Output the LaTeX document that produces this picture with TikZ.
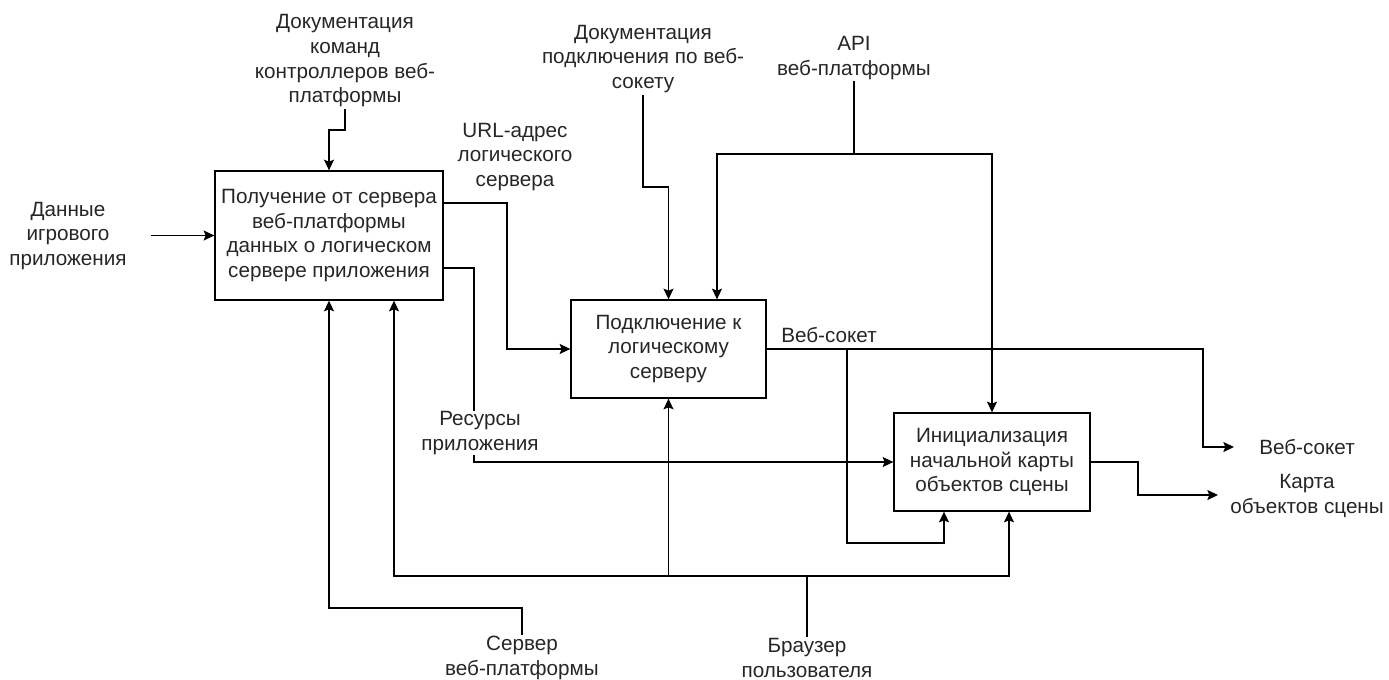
\documentclass[tikz,border=0pt]{standalone}
\usepackage{fontspec}
\setmainfont{Liberation Sans}
\usetikzlibrary{arrows.meta,calc}
\definecolor{txt}{HTML}{262626}
\newcommand{\dfs}{\fontsize{15.5pt}{18.5pt}\selectfont}
\begin{document}
\begin{tikzpicture}[x=0.75pt,y=-0.75pt,
  box/.style={draw, line width=1pt, align=center, font=\dfs, text=txt, inner sep=0pt},
  lbl/.style={align=center, font=\dfs, text=txt, inner sep=1pt},
  conn/.style={line width=1pt},
  arr/.style={conn, -{Stealth[length=8pt,width=7.5pt,inset=1.5pt]}}]
\useasboundingbox (0,0) rectangle (1389,679);
% boxes
\node[box, minimum width=171pt, minimum height=96.75pt] (A) at (329,235.5)
  {Получение от сервера\\веб-платформы\\данных о логическом\\сервере приложения};
\node[box, minimum width=146.25pt, minimum height=73.5pt] (B) at (668.5,349)
  {Подключение к\\логическому\\серверу};
\node[box, minimum width=147pt, minimum height=73.5pt] (C) at (992,462)
  {Инициализация\\начальной карты\\объектов сцены};
% labels
\node[lbl] (ctrlA) at (345,61) {Документация\\команд\\контроллеров веб-\\платформы};
\node[lbl] (inA) at (68,236) {Данные\\игрового\\приложения};
\node[lbl] (url) at (515,157) {URL-адрес\\логического\\сервера};
\node[lbl] (docB) at (643,59) {Документация\\подключения по веб-\\сокету};
\node[lbl] (api) at (854,58) {API\\веб-платформы};
\node[lbl] (wsLbl) at (829,335) {Веб-сокет};
\node[lbl] (wsOut) at (1307,447) {Веб-сокет};
\node[lbl] (mapOut) at (1307,496) {Карта\\объектов сцены};
\node[lbl] (srv) at (522,658) {Сервер\\веб-платформы};
\node[lbl] (brw) at (807,658) {Браузер\\пользователя};
% coordinates
\coordinate (k1) at (345,130);
\coordinate (i1) at (151,235.5);
\coordinate (k2) at (643,187);
\coordinate (j1) at (854,154);
\coordinate (k3) at (1203,349);
\coordinate (wsEnd) at (1234,447);
\coordinate (k4) at (847,349);
\coordinate (k8) at (847,543);
\coordinate (k9) at (1138,462);
\coordinate (mapEnd) at (1218,495);
\coordinate (k5) at (522,608);
\coordinate (k6) at (807,576);
\coordinate (k7) at (B.south |- k6);
% connectors
\draw[arr] (ctrlA.south) -- (k1) -| (A.north);
\draw[arr] (i1) -- (A.west);
\draw[arr] ($(A.east)+(0,-32.5)$) -- (507,203) |- (B.west);
\draw[arr] ($(A.east)+(0,32.5)$) -- (474,268) |- (C.west);
\draw[arr] (docB.south) -- (k2) -| (B.north);
\draw[conn] (api.south) -- (j1);
\draw[arr] (j1) -| ($(B.north)+(48.5,0)$);
\draw[arr] (j1) -| (C.north);
\draw[arr] (B.east) -- (k3) |- (wsEnd);
\draw[arr] (k4) -- (k8) -| ($(C.south)+(-48,0)$);
\draw[arr] (C.east) -- (k9) |- (mapEnd);
\draw[arr] (srv.north) -- (k5) -| (A.south);
\draw[conn] (brw.north) -- (k6);
\draw[arr] (k6) -| ($(A.south)+(65,0)$);
\draw[arr] (k6) -| ($(C.south)+(17,0)$);
\draw[arr] (k7) -- (B.south);
% label over resource line
\node[lbl, fill=white, inner sep=0pt] (res) at (480,433) {Ресурсы\\приложения};
\end{tikzpicture}
\end{document}
